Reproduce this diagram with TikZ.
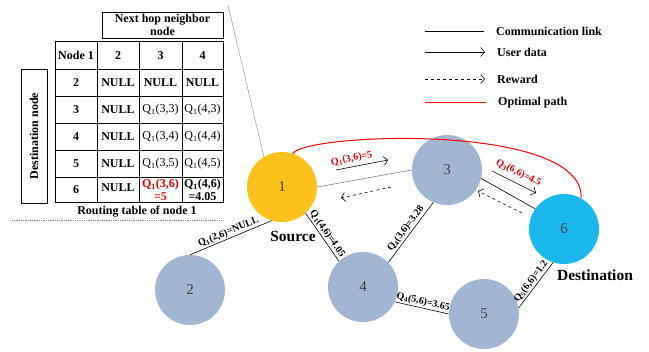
\documentclass[tikz,border=0pt]{standalone}
\usepackage{fontspec}
\setmainfont{Liberation Serif}
\usetikzlibrary{arrows.meta}
\definecolor{srcc}{RGB}{253,194,28}
\definecolor{dstc}{RGB}{27,184,238}
\definecolor{midc}{RGB}{162,181,211}
\definecolor{numc}{RGB}{64,64,64}
\definecolor{redq}{RGB}{230,0,0}
\tikzset{
  netnode/.style={circle, minimum size=70pt, inner sep=0pt, font=\fontsize{15}{15}\selectfont, text=numc},
  link/.style={black, line width=0.6pt},
  elabel/.style={font=\bfseries\fontsize{10}{10}\selectfont, sloped, above, inner sep=1.2pt},
  qlabel/.style={font=\bfseries\fontsize{10}{10}\selectfont, sloped, above, inner sep=1.2pt, text=redq},
  tcell/.style={font=\fontsize{12}{13}\selectfont, inner sep=0pt, align=center},
  bcell/.style={tcell, font=\bfseries\fontsize{12}{13}\selectfont},
  udata/.style={-{Straight Barb[length=4pt,width=9pt]}, line width=0.6pt},
  reward/.style={udata, dashed},
  legtext/.style={anchor=west, font=\bfseries\fontsize{12}{13}\selectfont, inner sep=0pt},
  bigtext/.style={font=\bfseries\fontsize{15.5}{16}\selectfont, inner sep=0pt}
}
\begin{document}
\begin{tikzpicture}[x=1pt,y=-1pt]
\useasboundingbox[fill=white] (0,0) rectangle (649,352);

% ---------- routing table ----------
\draw[line width=0.7pt] (102,12) rectangle (223,38);
\node[bcell] (hdr) at (162.5,25) {Next hop neighbor\\node};
\draw[line width=0.7pt] (21,69) rectangle (47,203);
\node[bcell, rotate=90] (dst) at (34,136) {Destination node};
\draw[line width=1pt] (55,42) rectangle (223,203);
\foreach \x in {97,139,182} \draw[line width=0.7pt] (\x,42) -- (\x,203);
\foreach \y in {69,96,123,150,177} \draw[line width=0.7pt] (55,\y) -- (223,\y);

\node[bcell] (t00) at (76,55.5) {Node 1};
\node[bcell] (t01) at (118,55.5) {2};
\node[bcell] (t02) at (160.5,55.5) {3};
\node[bcell] (t03) at (202.5,55.5) {4};

\node[bcell] (t10) at (76,82.5) {2};
\node[bcell] (t11) at (118,82.5) {NULL};
\node[bcell] (t12) at (160.5,82.5) {NULL};
\node[bcell] (t13) at (202.5,82.5) {NULL};

\node[bcell] (t20) at (76,109.5) {3};
\node[bcell] (t21) at (118,109.5) {NULL};
\node[tcell] (t22) at (160.5,109.5) {Q\textsubscript{1}(3,3)};
\node[tcell] (t23) at (202.5,109.5) {Q\textsubscript{1}(4,3)};

\node[bcell] (t30) at (76,137) {4};
\node[bcell] (t31) at (118,136.5) {NULL};
\node[tcell] (t32) at (160.5,136.5) {Q\textsubscript{1}(3,4)};
\node[tcell] (t33) at (202.5,136.5) {Q\textsubscript{1}(4,4)};

\node[bcell] (t40) at (76,163.5) {5};
\node[bcell] (t41) at (118,163.5) {NULL};
\node[tcell] (t42) at (160.5,164) {Q\textsubscript{1}(3,5)};
\node[tcell] (t43) at (202.5,164) {Q\textsubscript{1}(4,5)};

\node[bcell] (t50) at (76,190) {6};
\node[bcell] (t51) at (118,188) {NULL};
\node[bcell, text=redq] (t52) at (160.5,190) {Q\textsubscript{1}(3,6)\\=5};
\node[bcell] (t53) at (202.5,190) {Q\textsubscript{1}(4,6)\\=4.05};

\node[bcell] (cap) at (137,212) {Routing table of node 1};
\coordinate (dl1) at (12,220);
\coordinate (dl2) at (224,220);
\draw[gray, line width=0.6pt, dash pattern=on 1pt off 0.8pt] (dl1) -- (dl2);

% ---------- legend ----------
\coordinate (la1) at (425,31);  \coordinate (lb1) at (484,31);
\coordinate (la2) at (425,52);  \coordinate (lb2) at (485,52);
\coordinate (la3) at (425,79);  \coordinate (lb3) at (485,79);
\coordinate (la4) at (425,103); \coordinate (lb4) at (486,103);
\draw[link] (la1) -- (lb1);
\draw[udata] (la2) -- (lb2);
\draw[reward] (la3) -- (lb3);
\draw[red, line width=1pt] (la4) -- (lb4);
\node[legtext] (lt1) at (496,31) {Communication link};
\node[legtext] (lt2) at (497,52) {User data};
\node[legtext] (lt3) at (497,79) {Reward};
\node[legtext] (lt4) at (498,103) {Optimal path};

% ---------- network ----------
\node[netnode, fill=srcc] (n1) at (282,187) {1};
\node[netnode, fill=midc] (n2) at (190,290) {2};
\node[netnode, fill=midc] (n3) at (447,170) {3};
\node[netnode, fill=midc] (n4) at (363,287) {4};
\node[netnode, fill=midc] (n5) at (484,314) {5};
\node[netnode, fill=dstc] (n6) at (564,229) {6};

\node[bigtext] (src) at (293,236) {Source};
\node[bigtext] (dsttxt) at (595,275) {Destination};

\coordinate (gtop) at (228,5);
\draw[gray!80, line width=0.5pt] (gtop) -- (n1.121);

\draw[link] (n2.90) -- node[elabel, pos=0.5]{Q\textsubscript{1}(2,6)=NULL} (n1.253);
\draw[link] (n1.-48) -- node[elabel, pos=0.5]{Q\textsubscript{1}(4,6)=4.05} (n4.133);
\draw[gray, line width=0.6pt] (n1.0) -- (n3.180);
\draw[link] (n4.44) -- node[elabel, pos=0.5]{Q\textsubscript{4}(3,6)=3.28} (n3.-113);
\draw[link] (n4.-25) -- node[elabel, pos=0.5]{Q\textsubscript{4}(5,6)=3.65} (n5.180);
\draw[link] (n5.10) -- node[elabel, pos=0.5]{Q\textsubscript{5}(6,6)=1.2} (n6.-108);
\draw[link] (n3.-14) -- (n6.145);

\draw[red, line width=1pt] (n1.72) .. controls (305,133) and (585,122) .. (n6.61);

\coordinate (u1s) at (336,170); \coordinate (u1e) at (388,160);
\coordinate (r1s) at (391,187); \coordinate (r1e) at (341,198);
\coordinate (u2s) at (492,171); \coordinate (u2e) at (536,193);
\coordinate (r2s) at (522,213); \coordinate (r2e) at (478,191);
\draw[udata] (u1s) -- node[qlabel, pos=0.33, above=2pt]{Q\textsubscript{1}(3,6)=5} (u1e);
\draw[reward] (r1s) -- (r1e);
\draw[udata] (u2s) -- node[qlabel, pos=0.5, above=4pt]{Q\textsubscript{3}(6,6)=4.5} (u2e);
\draw[reward] (r2s) -- (r2e);
\end{tikzpicture}
\end{document}
